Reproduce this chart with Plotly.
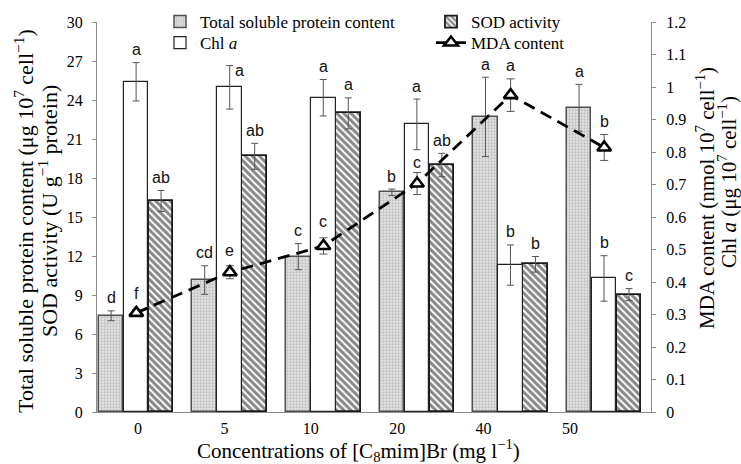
import plotly.graph_objects as go

# ---------------- data ----------------
concentrations = ["0", "5", "10", "20", "40", "50"]

protein = [7.4, 10.15, 11.95, 16.9, 22.7, 23.4]
protein_err = [0.38, 1.1, 1.0, 0.25, 3.05, 1.8]
protein_sig = ["d", "cd", "c", "b", "a", "a"]

chl = [1.016, 0.999, 0.967, 0.885, 0.452, 0.411]
chl_err = [0.059, 0.067, 0.056, 0.078, 0.062, 0.07]
chl_sig = ["a", "a", "a", "a", "b", "b"]

sod = [16.23, 19.67, 22.97, 19.0, 11.36, 9.03]
sod_err = [0.81, 1.0, 1.19, 0.9, 0.6, 0.46]
sod_sig = ["ab", "ab", "a", "ab", "b", "c"]

mda = [0.305, 0.43, 0.511, 0.703, 0.975, 0.814]
mda_err = [0.01, 0.02, 0.025, 0.034, 0.05, 0.04]
mda_sig = ["f", "e", "c", "c", "a", "b"]

x_title = "Concentrations of [C<sub>8</sub>mim]Br (mg l<sup>−1</sup>)"
left_title = ["Total soluble protein content (μg 10<sup>7</sup> cell<sup>−1</sup>)",
              "SOD activity (U g<sup>−1</sup> protein)"]
right_title = ["MDA content (nmol 10<sup>7</sup> cell<sup>−1</sup>)",
               "Chl <i>a</i> (μg 10<sup>7</sup> cell<sup>−1</sup>)"]

# ---------------- style ----------------
W, H = 741, 464
ML, MR, MT, MB = 97, 90, 22, 52
PW, PH = W - ML - MR, H - MT - MB
SERIF = "Liberation Serif"
SANS = "Liberation Sans"
pos = list(range(len(concentrations)))
BW = 0.262
OFF_P, OFF_C, OFF_S = -0.4, -0.133, 0.134

def px_x(px):
    return (px - ML) / PW

def px_y(py):
    return (H - MB - py) / PH

err_style = dict(type="data", color="#555555", thickness=1, width=3.5)

fig = go.Figure()

fig.add_trace(go.Bar(
    x=pos, y=protein, width=BW, offset=OFF_P,
    name="Total soluble protein content", legend="legend",
    marker=dict(color="#dcdcdc",
                line=dict(color="#505050", width=1.5),
                pattern=dict(shape=".", fgcolor="#9a9a9a", bgcolor="#e4e4e4",
                             size=3, solidity=0.45)),
    error_y=dict(array=protein_err, **err_style),
    yaxis="y",
))

fig.add_trace(go.Bar(
    x=pos, y=sod, width=BW, offset=OFF_S,
    name="SOD activity", legend="legend",
    marker=dict(color="white",
                line=dict(color="#1a1a1a", width=1.8),
                pattern=dict(shape="\\", fgcolor="#111111", bgcolor="white",
                             size=5, solidity=0.6)),
    error_y=dict(array=sod_err, **err_style),
    yaxis="y",
))

fig.add_trace(go.Bar(
    x=pos, y=chl, width=BW, offset=OFF_C,
    name="Chl <i>a</i>", legend="legend2",
    marker=dict(color="white", line=dict(color="#222222", width=1.2)),
    error_y=dict(array=chl_err, **err_style),
    yaxis="y2",
))

fig.add_trace(go.Scatter(
    x=pos, y=mda, mode="lines+markers",
    name="MDA content", legend="legend2",
    line=dict(color="black", width=2.8, dash="12px,7px"),
    marker=dict(symbol="triangle-up", size=12, color="white",
                line=dict(color="black", width=2.6)),
    error_y=dict(array=mda_err, color="#555555", thickness=1, width=4),
    yaxis="y2",
))

# helper (invisible) trace so the label axis is drawn
fig.add_trace(go.Scatter(x=pos, y=[None] * len(pos), xaxis="x2", yaxis="y",
                         showlegend=False, hoverinfo="skip", mode="markers"))

# ---------------- significance letters ----------------
annotations = []
def add_letters(vals, errs, sigs, off, yref, special=None):
    for i, (v, e, s) in enumerate(zip(vals, errs, sigs)):
        xs, ys = 0, 13
        if special and i in special:
            xs, ys = special[i]
        annotations.append(dict(
            x=pos[i] + off, y=v + e, xref="x", yref=yref, text=s,
            showarrow=False, xshift=xs, yshift=ys,
            xanchor="center", yanchor="middle",
            font=dict(family=SANS, size=16, color="#111111")))

add_letters(protein, protein_err, protein_sig, OFF_P + BW / 2, "y")
add_letters(sod, sod_err, sod_sig, OFF_S + BW / 2, "y")
add_letters(chl, chl_err, chl_sig, OFF_C + BW / 2, "y2", special={1: (10, -5)})
add_letters(mda, mda_err, mda_sig, 0, "y2",
            special={0: (0, 16), 1: (0, 15), 2: (0, 16), 3: (0, 10)})

# ---------------- axis titles (as annotations for tight line spacing) ----------------
title_font_l = dict(family=SERIF, size=22, color="black")
title_font_r = dict(family=SERIF, size=21, color="black")
common = dict(xref="paper", yref="paper", showarrow=False,
              xanchor="center", yanchor="middle")
annotations += [
    dict(text=left_title[0], x=px_x(24), y=px_y(221), textangle=-90,
         font=title_font_l, **common),
    dict(text=left_title[1], x=px_x(48), y=px_y(211), textangle=-90,
         font=title_font_l, **common),
    dict(text=right_title[0], x=px_x(706), y=px_y(198), textangle=-90,
         font=title_font_r, **common),
    dict(text=right_title[1], x=px_x(727), y=px_y(182), textangle=-90,
         font=title_font_r, **common),
    dict(text=x_title, x=px_x(358), y=px_y(450),
         font=dict(family=SERIF, size=21, color="black"), **common),
]

axis_line = "#8c8c8c"
tickfont = dict(family=SERIF, size=16, color="black")
legend_common = dict(orientation="h", xanchor="left", yanchor="top",
                     entrywidth=226, font=dict(family=SERIF, size=17, color="black"),
                     bgcolor="rgba(0,0,0,0)", tracegroupgap=0, itemwidth=30)

fig.update_layout(
    width=W, height=H,
    margin=dict(l=ML, r=MR, t=MT, b=MB, autoexpand=False),
    paper_bgcolor="white", plot_bgcolor="white",
    showlegend=True,
    legend=dict(x=px_x(160), y=px_y(4), **legend_common),
    legend2=dict(x=px_x(160), y=px_y(25), **legend_common),
    xaxis=dict(range=[-0.42, 5.5], showticklabels=False, ticks="",
               showline=True, linecolor=axis_line, linewidth=1,
               showgrid=False, zeroline=False),
    xaxis2=dict(overlaying="x", side="bottom", anchor="y",
                range=[-0.4745, 5.9375], tickmode="array",
                tickvals=pos, ticktext=concentrations, ticks="",
                tickfont=tickfont, showgrid=False, zeroline=False,
                showline=False, ticklabelstandoff=5),
    yaxis=dict(range=[0, 30], dtick=3, ticks="outside", ticklen=4,
               tickcolor=axis_line, showline=True, linecolor=axis_line,
               showgrid=False, zeroline=False, tickfont=tickfont,
               ticklabelstandoff=6),
    yaxis2=dict(range=[0, 1.2], dtick=0.1, overlaying="y", side="right",
                ticks="outside", ticklen=4, tickcolor=axis_line,
                showline=True, linecolor=axis_line, showgrid=False,
                zeroline=False, tickfont=tickfont, ticklabelstandoff=7),
    annotations=annotations,
    bargap=0, barmode="overlay",
)

fig.write_html("out.html", config={"displayModeBar": False},
               post_script="document.body.style.margin='0px';")
